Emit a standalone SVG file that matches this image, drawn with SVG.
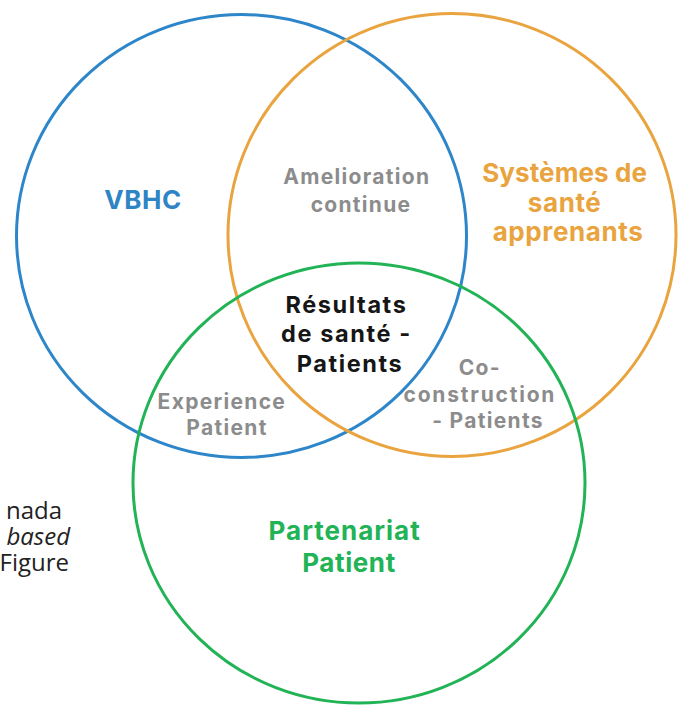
<svg xmlns="http://www.w3.org/2000/svg" width="680" height="705" viewBox="0 0 680 705">
  <style>
    .ring { fill: none; stroke-width: 3; }
    .lbl { font-family: Inter, "Open Sans", "DejaVu Sans", sans-serif; font-weight: 700; text-anchor: middle; }
    .head { font-size: 26px; letter-spacing: 0.6px; }
    .core { font-size: 23.5px; letter-spacing: 1.6px; fill: #161616; }
    .mid { font-size: 21px; letter-spacing: 1.3px; fill: #8c8c8c; }
    .side { font-family: "Open Sans", "Noto Sans", sans-serif; font-size: 24px; fill: #222222; text-anchor: end; }
  </style>
  <rect width="680" height="705" fill="#ffffff"/>

  <!-- partial caption lines on the left edge -->
  <g id="caption">
    <text class="side" x="62" y="519">nada</text>
    <text class="side" x="70" y="545" font-style="italic">based</text>
    <text class="side" x="69" y="571">Figure</text>
  </g>

  <!-- the three sets -->
  <g id="vbhc">
    <ellipse class="ring" cx="241.5" cy="236" rx="225" ry="221.5" stroke="#2d86c9"/>
    <text class="lbl head" x="143" y="209" fill="#2f84c5">VBHC</text>
  </g>
  <g id="systemes">
    <ellipse class="ring" cx="452" cy="235" rx="224" ry="221.5" stroke="#e9a43f"/>
    <text class="lbl head" fill="#e9a43f">
      <tspan x="568" y="182" letter-spacing="0.1">Systèmes de</tspan>
      <tspan x="568" y="212">santé</tspan>
      <tspan x="568" y="241">apprenants</tspan>
    </text>
  </g>
  <g id="partenariat">
    <ellipse class="ring" cx="359" cy="483" rx="226" ry="220" stroke="#21b356"/>
    <text class="lbl head" fill="#21b356">
      <tspan x="348" y="540" letter-spacing="1">Partenariat</tspan>
      <tspan x="349" y="572">Patient</tspan>
    </text>
  </g>

  <!-- overlap labels -->
  <g id="amelioration">
    <text class="lbl mid">
      <tspan x="360" y="184">Amelioration</tspan>
      <tspan x="361" y="212">continue</tspan>
    </text>
  </g>
  <g id="experience">
    <text class="lbl mid">
      <tspan x="225" y="409">Experience</tspan>
      <tspan x="227" y="435">Patient</tspan>
    </text>
  </g>
  <g id="coconstruction">
    <text class="lbl mid">
      <tspan x="483" y="375">Co-</tspan>
      <tspan x="483" y="402" letter-spacing="1.8">construction</tspan>
      <tspan x="488" y="428">- Patients</tspan>
    </text>
  </g>
  <g id="resultats">
    <text class="lbl core">
      <tspan x="350" y="313">Résultats</tspan>
      <tspan x="350" y="342">de santé -</tspan>
      <tspan x="350" y="372">Patients</tspan>
    </text>
  </g>

  <g id="connectors"/>
</svg>
